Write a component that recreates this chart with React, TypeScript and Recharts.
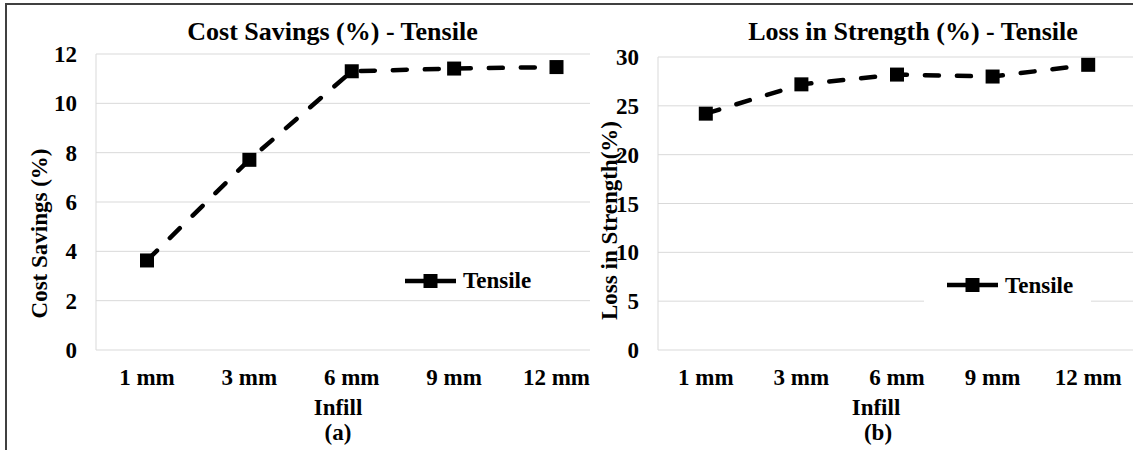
import React from 'react';
import { CartesianGrid, Legend, Line, LineChart, XAxis, YAxis } from 'recharts';

const infill = ['1 mm', '3 mm', '6 mm', '9 mm', '12 mm'];
const costSavings = [3.63, 7.71, 11.3, 11.41, 11.47];
const strengthLoss = [24.2, 27.2, 28.2, 28.0, 29.2];
const costTicks = [0, 2, 4, 6, 8, 10, 12];
const strengthTicks = [0, 5, 10, 15, 20, 25, 30];

const costData = infill.map((name, i) => ({ name, tensile: costSavings[i] }));
const strengthData = infill.map((name, i) => ({ name, tensile: strengthLoss[i] }));

const FONT = "'Liberation Serif', 'Times New Roman', serif";
const tickStyle = { fontSize: 23, fontWeight: 700, fill: '#000', fontFamily: FONT };

const renderSquare = (props: any) => (
  <rect key={`sq-${props.index}`} x={props.cx - 7} y={props.cy - 7} width={14} height={14} fill="#000" />
);

const LegendBox = ({ payload }: any) => (
  <div
    style={{
      display: 'flex',
      alignItems: 'center',
      height: 36,
      padding: '0 18px 0 23px',
      background: '#fff',
      fontFamily: FONT,
      fontWeight: 700,
      fontSize: 23,
      lineHeight: 1,
      color: '#000',
    }}
  >
    <svg width={51} height={16} style={{ marginRight: 7 }}>
      <line x1={0} y1={8} x2={51} y2={8} stroke="#000" strokeWidth={4.5} />
      <rect x={18.5} y={1} width={14} height={14} fill="#000" />
    </svg>
    <span>{payload && payload[0] ? payload[0].value : ''}</span>
  </div>
);

const App = () => {
  return (
    <div style={{ position: 'absolute', left: 0, top: 0, width: 1133, height: 450, overflow: 'hidden', background: '#fff' }}>
      <div style={{ position: 'absolute', left: 0, top: 0 }}>
        <LineChart width={620} height={450} data={costData} margin={{ top: 54, right: 12.5, bottom: 70, left: 0 }}>
          <CartesianGrid vertical={false} stroke="#d9d9d9" />
          <XAxis
            dataKey="name"
            height={30}
            padding={{ left: 51, right: 51 }}
            axisLine={false}
            tickLine={false}
            tickSize={0}
            tickMargin={19}
            tick={tickStyle}
            interval={0}
          />
          <YAxis
            width={96}
            domain={[0, 12]}
            ticks={costTicks}
            axisLine={{ stroke: '#d9d9d9' }}
            tickLine={false}
            tickSize={0}
            tickMargin={19}
            tick={tickStyle}
          />
          <Legend
            layout="vertical"
            align="center"
            verticalAlign="middle"
            content={<LegendBox />}
            wrapperStyle={{ left: 382, top: 262.5, width: 'auto' }}
          />
          <Line
            type="linear"
            dataKey="tensile"
            name="Tensile"
            stroke="#000"
            strokeWidth={4.5}
            strokeDasharray="14 18"
            strokeLinecap="round"
            dot={renderSquare}
            activeDot={false}
            isAnimationActive={false}
          />
        </LineChart>
      </div>

      <div style={{ position: 'absolute', left: 590, top: 0, background: '#fff' }}>
        <LineChart width={546} height={450} data={strengthData} margin={{ top: 57, right: 0, bottom: 70, left: 0 }}>
          <CartesianGrid vertical={false} stroke="#d9d9d9" />
          <XAxis
            dataKey="name"
            height={30}
            padding={{ left: 47.8, right: 47.8 }}
            axisLine={false}
            tickLine={false}
            tickSize={0}
            tickMargin={19}
            tick={tickStyle}
            interval={0}
          />
          <YAxis
            width={68}
            domain={[0, 30]}
            ticks={strengthTicks}
            axisLine={{ stroke: '#d9d9d9' }}
            tickLine={false}
            tickSize={0}
            tickMargin={19}
            tick={tickStyle}
          />
          <Legend
            layout="vertical"
            align="center"
            verticalAlign="middle"
            content={<LegendBox />}
            wrapperStyle={{ left: 334, top: 267, width: 'auto' }}
          />
          <Line
            type="linear"
            dataKey="tensile"
            name="Tensile"
            stroke="#000"
            strokeWidth={4.5}
            strokeDasharray="14 18"
            strokeLinecap="round"
            dot={renderSquare}
            activeDot={false}
            isAnimationActive={false}
          />
        </LineChart>
      </div>

      <svg width={1133} height={450} style={{ position: 'absolute', left: 0, top: 0, pointerEvents: 'none' }}>
        <g fontFamily={FONT} fontWeight={700} fill="#000">
          <text x={332.5} y={40} fontSize={26} textAnchor="middle">Cost Savings (%) - Tensile</text>
          <text x={913} y={40} fontSize={26} textAnchor="middle">Loss in Strength (%) - Tensile</text>
          <text transform="translate(46.5,233.5) rotate(-90)" fontSize={23} textAnchor="middle">Cost Savings (%)</text>
          <text transform="translate(616.5,220.5) rotate(-90)" fontSize={23} textAnchor="middle">Loss in Strength(%)</text>
          <text x={338} y={415} fontSize={23} textAnchor="middle">Infill</text>
          <text x={338} y={440} fontSize={23} textAnchor="middle">(a)</text>
          <text x={876} y={415} fontSize={23} textAnchor="middle">Infill</text>
          <text x={878} y={440} fontSize={23} textAnchor="middle">(b)</text>
        </g>
      </svg>

      <div
        style={{
          position: 'absolute',
          left: 5,
          top: 3,
          width: 1140,
          height: 460,
          borderTop: '2px solid #404040',
          borderLeft: '2px solid #404040',
          pointerEvents: 'none',
        }}
      />
    </div>
  );
};

export default App;
